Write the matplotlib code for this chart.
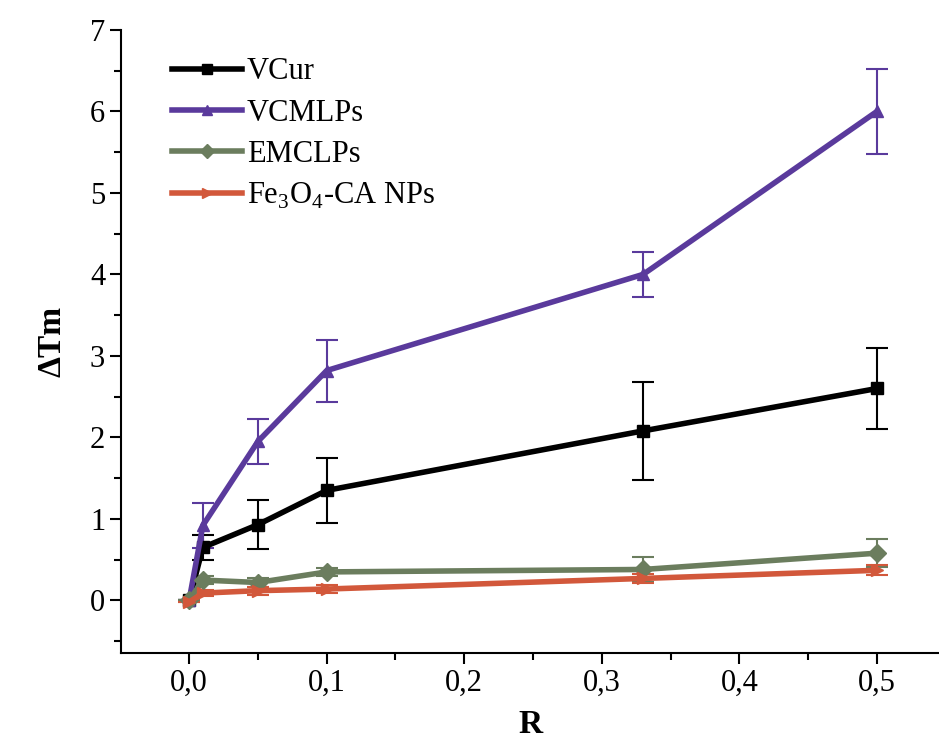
import matplotlib.pyplot as plt
from matplotlib.ticker import MultipleLocator, FuncFormatter

plt.rcParams['font.family'] = ['Liberation Serif', 'DejaVu Serif']
plt.rcParams['mathtext.fontset'] = 'custom'
plt.rcParams['mathtext.rm'] = 'Liberation Serif'

R = [0.0, 0.01, 0.05, 0.1, 0.33, 0.5]

vcur = [0.0, 0.65, 0.93, 1.35, 2.08, 2.6]
vcur_err = [0.0, 0.15, 0.3, 0.4, 0.6, 0.5]

vcmlps = [0.0, 0.92, 1.95, 2.82, 4.0, 6.0]
vcmlps_err = [0.0, 0.28, 0.28, 0.38, 0.28, 0.52]

emclps = [0.0, 0.25, 0.22, 0.35, 0.38, 0.58]
emclps_err = [0.0, 0.05, 0.05, 0.05, 0.15, 0.17]

fe3o4 = [-0.02, 0.09, 0.12, 0.14, 0.27, 0.37]
fe3o4_err = [0.0, 0.04, 0.05, 0.05, 0.06, 0.06]

series = [
    ("VCur", vcur, vcur_err, "black", "s"),
    ("VCMLPs", vcmlps, vcmlps_err, "#5a3a9c", "^"),
    ("EMCLPs", emclps, emclps_err, "#6b7d5e", "D"),
    ("Fe$_3$O$_4$-CA NPs", fe3o4, fe3o4_err, "#d2583b", ">"),
]

fig = plt.figure(figsize=(9.39, 7.45), dpi=100)
ax = fig.add_axes([0.129, 0.124, 0.871, 0.836])

handles = []
for name, vals, err, col, mk in series:
    eb = ax.errorbar(R, vals, yerr=err, color=col, marker=mk, markersize=9,
                     linewidth=4, elinewidth=1.5, capsize=8, capthick=1.5, label=name)
    handles.append(eb[0])

ax.set_xlim(-0.0494, 0.545)
ax.set_ylim(-0.64, 7)
ax.xaxis.set_major_locator(MultipleLocator(0.1))
ax.xaxis.set_minor_locator(MultipleLocator(0.05))
ax.yaxis.set_major_locator(MultipleLocator(1))
ax.yaxis.set_minor_locator(MultipleLocator(0.5))
ax.xaxis.set_major_formatter(FuncFormatter(lambda v, p: f"{v:.1f}".replace('.', ',').replace('-0,0', '0,0')))
ax.yaxis.set_major_formatter(FuncFormatter(lambda v, p: f"{int(round(v))}"))

ax.spines['top'].set_visible(False)
ax.spines['right'].set_visible(False)
ax.spines['left'].set_linewidth(1.5)
ax.spines['bottom'].set_linewidth(1.5)
ax.tick_params(which='major', direction='out', length=8, width=1.5, labelsize=22)
ax.tick_params(which='minor', direction='out', length=5, width=1.5)

ax.set_xlabel('R', fontsize=24, fontweight='bold', labelpad=8)
ax.set_ylabel('ΔTm', fontsize=24, fontweight='bold', labelpad=16)

ax.legend(handles, [s[0] for s in series], loc='upper left', bbox_to_anchor=(0.04, 0.985),
          frameon=False, fontsize=22, handlelength=2.3, handletextpad=0.15,
          labelspacing=0.4, borderaxespad=0.2, markerscale=0.8)

fig.savefig('out.png', dpi=100)
